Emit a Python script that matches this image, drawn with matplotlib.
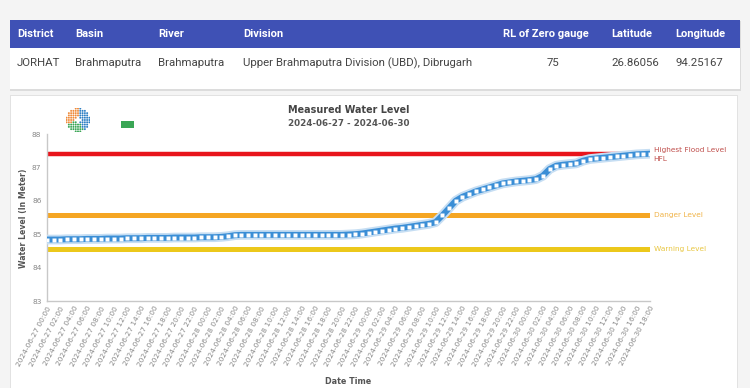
import numpy as np
import pandas as pd
import matplotlib
matplotlib.use('Agg')
import matplotlib.pyplot as plt
from matplotlib.patches import Rectangle

# station table
table_cols = ['District', 'Basin', 'River', 'Division', 'RL of Zero gauge', 'Latitude', 'Longitude']
table_row = ['JORHAT', 'Brahmaputra', 'Brahmaputra', 'Upper Brahmaputra Division (UBD), Dibrugarh', '75', '26.86056', '94.25167']

# hourly water level readings (m), 2024-06-27 00:00 .. 2024-06-30 18:00
level = [84.84, 84.84, 84.84, 84.85, 84.85, 84.85, 84.86, 84.86, 84.86, 84.87,
         84.87, 84.87, 84.88, 84.88, 84.88, 84.89, 84.89, 84.89, 84.89, 84.90,
         84.90, 84.90, 84.90, 84.91, 84.91, 84.91, 84.92, 84.94, 84.97, 84.98,
         84.98, 84.98, 84.98, 84.98, 84.98, 84.98, 84.98, 84.98, 84.98, 84.98,
         84.98, 84.98, 84.98, 84.98, 84.98, 84.99, 85.00, 85.02, 85.05, 85.08,
         85.11, 85.14, 85.17, 85.19, 85.22, 85.25, 85.28, 85.31, 85.36, 85.56,
         85.78, 86.00, 86.12, 86.20, 86.28, 86.34, 86.40, 86.46, 86.52, 86.55,
         86.58, 86.60, 86.62, 86.65, 86.75, 86.95, 87.05, 87.08, 87.10, 87.12,
         87.20, 87.25, 87.27, 87.29, 87.31, 87.33, 87.35, 87.37, 87.39, 87.40,
         87.41]
times = pd.date_range('2024-06-27 00:00', periods=len(level), freq='h')
tick_times = times[::2]
tick_labels = [t.strftime('%Y-%m-%d %H:%M') for t in tick_times]

hfl = 87.39
danger = 85.56
warning = 84.56
y_ticks = [83, 84, 85, 86, 87, 88]

W, H = 750, 388
fig = plt.figure(figsize=(W / 100, H / 100), dpi=100)
fig.patch.set_facecolor('#f4f4f4')


def box(x0, y0, x1, y1, **kw):
    # rectangle in pixel coords, y measured from the top
    r = Rectangle((x0 / W, 1 - y1 / H), (x1 - x0) / W, (y1 - y0) / H,
                  transform=fig.transFigure, zorder=-5, **kw)
    fig.patches.append(r)


def ftext(x, y, s, **kw):
    fig.text(x / W, 1 - y / H, s, **kw)


# table card
box(10, 21, 741, 91, facecolor='#dcdcdc', edgecolor='none')
box(10, 20, 740, 89, facecolor='white', edgecolor='none')
box(10, 20, 740, 48, facecolor='#3f51b5', edgecolor='none')
col_x = [17, 75, 158, 243, 503, 611, 675]
for cx, name in zip(col_x, table_cols):
    ftext(cx, 34, name, color='white', fontsize=8, fontweight='bold',
          family='Roboto', va='center')
for i, (cx, val) in enumerate(zip(col_x, table_row)):
    if i == 4:
        ftext(553, 63, val, color='#444', fontsize=8.2, family='Roboto', va='center', ha='center')
    else:
        ftext(cx, 63, val, color='#444', fontsize=8.2, family='Roboto', va='center')

# chart card
box(10, 95, 738, 400, facecolor='#e2e2e2', edgecolor='none')
box(11, 96, 737, 400, facecolor='white', edgecolor='none')

# logo: dotted globe in its own little axes
lax = fig.add_axes([66 / W, 1 - 132 / H, 24 / W, 24 / H])
lax.set_xlim(-1.05, 1.05)
lax.set_ylim(-1.05, 1.05)
lax.set_aspect('equal')
lax.axis('off')
g = np.linspace(-1, 1, 11)
gx, gy = np.meshgrid(g, g)
gx, gy = gx.ravel(), gy.ravel()
d = np.hypot(gx, gy)
keep = (d <= 1.02) & (d > 0.25)
gx, gy = gx[keep], gy[keep]
ang = np.degrees(np.arctan2(gy, gx)) % 360
cols = np.where((ang >= 90) & (ang < 200), '#f08b3a',
                np.where((ang >= 200) & (ang < 300), '#3aa655', '#2f80c4'))
lax.scatter(gx, gy, s=2.0, c=cols, linewidths=0)
box(121, 121, 134, 128, facecolor='#3aa655', edgecolor='none')

ftext(349, 110, 'Measured Water Level', ha='center', va='center', fontsize=6.9,
      fontweight='bold', color='#444')
ftext(349, 123, '2024-06-27 - 2024-06-30', ha='center', va='center', fontsize=6.3,
      fontweight='bold', color='#555')

ax = fig.add_axes([47 / W, (H - 301) / H, 603 / W, 167 / H])
ax.set_facecolor('none')

ax.plot([times[0], times[-1]], [hfl, hfl], color='#e8141b', lw=3.2, solid_capstyle='butt', zorder=2)
ax.plot([times[0], times[-1]], [danger, danger], color='#f5a623', lw=3.6, solid_capstyle='butt', zorder=2)
ax.plot([times[0], times[-1]], [warning, warning], color='#ecc81b', lw=3.6, solid_capstyle='butt', zorder=2)

ax.plot(times, level, color='#c6def3', lw=7, zorder=3, solid_capstyle='round')
ax.plot(times, level, color='#3a8ed6', lw=4.3, zorder=4, solid_capstyle='round')
ax.plot(times, level, ls='none', marker='s', ms=2.2, mec='none', mfc='white', zorder=5)

tr = ax.get_yaxis_transform()
ax.text(1.006, hfl + 0.12, 'Highest Flood Level', transform=tr, fontsize=5.3,
        color='#c0504d', va='center', ha='left', clip_on=False)
ax.text(1.006, hfl - 0.13, 'HFL', transform=tr, fontsize=5.3,
        color='#c0504d', va='center', ha='left', clip_on=False)
ax.text(1.006, danger, 'Danger Level', transform=tr, fontsize=5.3,
        color='#f0b347', va='center', ha='left', clip_on=False)
ax.text(1.006, warning, 'Warning Level', transform=tr, fontsize=5.3,
        color='#e8c640', va='center', ha='left', clip_on=False)

ax.set_xlim(times[0], times[-1])
ax.set_ylim(83, 88)
ax.set_yticks(y_ticks)
ax.set_yticklabels([str(v) for v in y_ticks])
ax.set_xticks(tick_times)
ax.set_xticklabels(tick_labels, rotation=62, ha='right', rotation_mode='anchor')
ax.tick_params(axis='both', length=0, labelsize=5.3, labelcolor='#888')
ax.tick_params(axis='x', pad=3)
ax.tick_params(axis='y', pad=4)
for s in ['top', 'right']:
    ax.spines[s].set_visible(False)
for s in ['left', 'bottom']:
    ax.spines[s].set_color('#c8c8c8')
    ax.spines[s].set_linewidth(1.0)

ftext(24, 218, 'Water Level (In Meter)', rotation=90, ha='center', va='center',
      fontsize=5.6, fontweight='bold', color='#555')
ftext(348, 381, 'Date Time', ha='center', va='center', fontsize=5.8,
      fontweight='bold', color='#555')

fig.savefig('out.png', dpi=100, facecolor=fig.get_facecolor())
